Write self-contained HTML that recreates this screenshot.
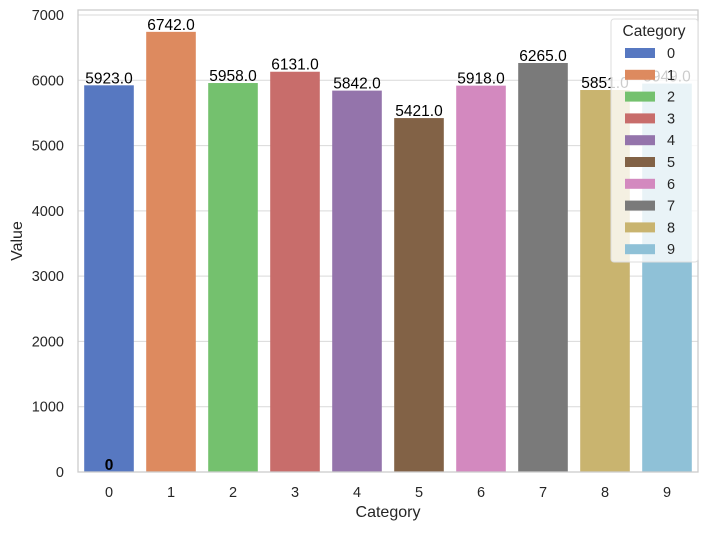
<!DOCTYPE html>
<html><head><meta charset="utf-8"><style>
body{margin:0;background:#fff;}
svg text{font-family:"Liberation Sans",Arial,sans-serif;}
</style></head><body>
<svg id="chart" width="707" height="530" xmlns="http://www.w3.org/2000/svg"></svg>
<script>
const categories=["0","1","2","3","4","5","6","7","8","9"];
const values=[5923,6742,5958,6131,5842,5421,5918,6265,5851,5949];
const yTicks=[0,1000,2000,3000,4000,5000,6000,7000];
const colors=["#5778c1","#dd8a5f","#74c16e","#c86d6b","#9474ab","#826246","#d389bf","#7a7a7a","#c9b46f","#8fc1d7"];
const NS="http://www.w3.org/2000/svg";
const svg=document.getElementById('chart');
const L=78,R=698,T=10,B=472;
const y=v=>B-v*(B-15)/7000;
const step=(R-L)/categories.length;
const x=i=>L+step*(i+0.5);
function mk(t,a,txt){const e=document.createElementNS(NS,t);for(const k in a)e.setAttribute(k,a[k]);if(txt!==undefined)e.textContent=txt;svg.appendChild(e);return e;}
let e;
yTicks.forEach(t=>{
 e=mk('line',{x1:L,x2:R,y1:y(t),y2:y(t),stroke:'#d9d9d9','stroke-width':1});
 
 
 e=mk('text',{x:L-14,y:y(t)+5,'text-anchor':'end','font-size':14.5,fill:'#262626'},String(t));
 
 
});
values.forEach((v,i)=>{
 const w=step*0.8;
 e=mk('rect',{x:x(i)-w/2,y:y(v),width:w,height:B-y(v),fill:colors[i]});
 
 
 e=mk('text',{x:x(i),y:y(v)-2,'text-anchor':'middle','font-size':15.5,fill:'#000'},v.toFixed(1));
 
 
 e=mk('text',{x:x(i),y:B+25,'text-anchor':'middle','font-size':14.5,fill:'#262626'},categories[i]);
 
 
});
e=mk('text',{x:x(0),y:B-2,'text-anchor':'middle','font-size':15.5,'font-weight':'bold',fill:'#000'},'0');


e=mk('rect',{x:L,y:T,width:R-L,height:B-T,fill:'none',stroke:'#cccccc','stroke-width':1.3});


e=mk('text',{x:(L+R)/2,y:517,'text-anchor':'middle','font-size':16,fill:'#262626'},'Category');


e=mk('text',{x:22,y:(T+B)/2,'text-anchor':'middle','font-size':16,fill:'#262626',transform:'rotate(-90 22 '+((T+B)/2)+')'},'Value');


e=mk('rect',{x:611,y:19,width:87,height:243,rx:3,fill:'rgba(255,255,255,0.8)',stroke:'#dddddd'});


e=mk('text',{x:654,y:36,'text-anchor':'middle','font-size':15.5,fill:'#262626'},'Category');


categories.forEach((c,i)=>{
 const yy=52+i*21.8;
 e=mk('rect',{x:625,y:yy-4,width:30,height:10,fill:colors[i]});
 
 
 e=mk('text',{x:667,y:yy+6,'font-size':14.5,fill:'#262626'},c);
 
 
});
</script>
</body></html>
